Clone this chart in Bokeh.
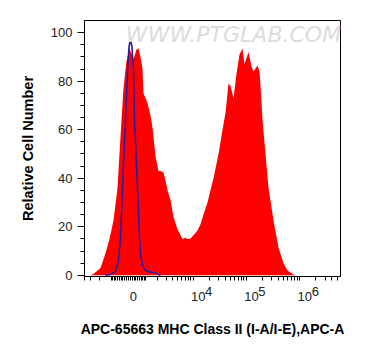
import numpy as np
from bokeh.plotting import figure
from bokeh.models import FixedTicker, Range1d, Label, LinearAxis
from bokeh.embed import file_html
from bokeh.resources import INLINE

# ---- data (x in display units of the biexponential axis, y = % of max) ----
red_x = [-0.713, -0.657, -0.525, -0.432, -0.356, -0.281, -0.206, -0.169, -0.131, -0.094,
         -0.038, 0.019, 0.094, 0.150, 0.188, 0.225, 0.263, 0.281, 0.319, 0.356,
         0.413, 0.450, 0.507, 0.563, 0.600, 0.657, 0.694, 0.732, 0.788, 0.844,
         0.919, 0.976, 1.013, 1.069, 1.107, 1.163, 1.220, 1.295, 1.351, 1.407,
         1.482, 1.538, 1.595, 1.632, 1.689, 1.764, 1.821, 1.876, 1.914, 1.970,
         2.026, 2.083, 2.139, 2.176, 2.251, 2.308, 2.345, 2.420, 2.458, 2.477,
         2.514, 2.570, 2.627, 2.720, 2.814, 2.908, 2.983, 3.039, 3.133]
red_y = [0, 0.5, 3, 9, 15, 22.6, 36, 50, 64, 77,
         88, 93.5, 89, 93, 93.5, 90, 85, 75, 73, 71,
         66, 61, 49, 43, 43, 42.4, 39, 35, 31, 24,
         19, 16.5, 15, 15.5, 15, 15.2, 16.5, 18.5, 21, 25,
         30, 35, 40, 44, 50, 60, 67, 79, 78, 73,
         83, 91, 93.5, 87, 92, 86, 84, 86.5, 84, 78,
         64, 50, 36, 22.6, 11.5, 5, 2, 1, 0]

blue_x = [-0.432, -0.338, -0.244, -0.188, -0.150, -0.113, -0.075, -0.056, -0.019, 0.009,
          0.038, 0.066, 0.094, 0.113, 0.141, 0.169, 0.197, 0.225, 0.263, 0.319,
          0.375, 0.450, 0.507, 0.563, 0.600]
blue_y = [0, 0.3, 1.5, 6, 15, 36, 55, 64, 84, 94,
          97.5, 94, 84, 64, 50, 36, 20, 9, 4, 2,
          1.5, 1.2, 1.0, 0.3, 0]

x_major_values = [0, 1e4, 1e5, 1e6]
x_major_base = ["0", "10", "10", "10"]
x_major_exp = ["", "4", "5", "6"]
y_ticks = [0, 20, 40, 60, 80, 100]

C = 1226.0
def pos(v):
    return float(np.round(np.arcsinh(v / C) / np.log(10), 4))

minor_vals = ([-v for v in range(1000, 5000, 1000)] +
              [-v for v in range(100, 1000, 100)] + list(range(100, 1000, 100)) +
              [m * 10 ** e for e in (3, 4, 5, 6) for m in range(1, 10)])
major_pos = [pos(v) for v in x_major_values]
minor_pos = sorted(set(pos(v) for v in minor_vals) - set(major_pos))

PX = 53.31  # pixels per display unit
base_pos = [round(mp + 5 / PX, 4) for mp in major_pos]
exp_pos = [round(mp + 15.5 / PX, 4) for mp, e in zip(major_pos, x_major_exp) if e]
exp_txt = [e for e in x_major_exp if e]

Y0 = -0.5
p = figure(width=360, height=350, x_range=Range1d(-0.825, 3.977), y_range=Range1d(Y0, 105),
           output_backend="svg", toolbar_location=None,
           min_border_left=84, min_border_right=20, min_border_top=20, min_border_bottom=74)
p.background_fill_color = "white"
p.border_fill_color = "white"
p.outline_line_color = "black"
p.outline_line_width = 1
p.grid.visible = False

p.varea(x=red_x, y1=0, y2=red_y, fill_color="#ff0000", fill_alpha=1.0)
p.line(blue_x, blue_y, line_color="#2a1aa0", line_width=1.6)

wm = Label(x=1.97, y=99.3, text="WWW.PTGLAB.COM", text_align="center", text_baseline="middle",
           text_font="DejaVu Sans", text_font_size="22px", text_font_style="italic",
           text_color="#dcdcdc")
p.add_layout(wm)

# axis A (next to the frame): all tick marks + raised exponents
xa = p.xaxis[0]
xa.ticker = FixedTicker(ticks=exp_pos, minor_ticks=sorted(major_pos + minor_pos))
xa.major_label_overrides = {ep: t for ep, t in zip(exp_pos, exp_txt)}
xa.major_label_text_font = "Liberation Sans"
xa.major_label_text_font_size = "13px"
xa.major_label_text_color = "#222222"
xa.major_label_standoff = 6
xa.major_tick_in = 0
xa.major_tick_out = 0
xa.major_tick_line_color = None
xa.minor_tick_in = 0
xa.minor_tick_out = 4
xa.axis_line_color = "black"

# axis B (below it): the base numbers and the title
xb = LinearAxis(ticker=FixedTicker(ticks=base_pos, minor_ticks=[]),
                major_label_overrides={bp: b for bp, b in zip(base_pos, x_major_base)},
                axis_line_color=None, major_tick_line_color=None, minor_tick_line_color=None,
                major_tick_in=0, major_tick_out=0, minor_tick_in=0, minor_tick_out=0,
                major_label_standoff=-7)
xb.major_label_text_font = "Liberation Sans"
xb.major_label_text_font_size = "13px"
xb.major_label_text_color = "#222222"
xb.axis_label = "APC-65663 MHC Class II (I-A/I-E),APC-A"
xb.axis_label_text_font = "Liberation Sans"
xb.axis_label_text_font_style = "bold"
xb.axis_label_text_font_size = "14px"
xb.axis_label_text_color = "black"
xb.axis_label_standoff = 17
p.add_layout(xb, "below")

ya = p.yaxis[0]
ya.ticker = FixedTicker(ticks=y_ticks, minor_ticks=list(range(0, 105, 5)))
ya.axis_label = "Relative Cell Number"
ya.axis_label_text_font = "Liberation Sans"
ya.axis_label_text_font_style = "bold"
ya.axis_label_text_font_size = "14.5px"
ya.axis_label_text_color = "black"
ya.axis_label_standoff = 12
ya.major_label_text_font = "Liberation Sans"
ya.major_label_text_font_size = "13px"
ya.major_label_text_color = "#222222"
ya.major_label_standoff = 5
ya.major_tick_in = 0
ya.major_tick_out = 7
ya.minor_tick_in = 0
ya.minor_tick_out = 4
ya.axis_line_color = "black"

open("out.html", "w").write(file_html(p, INLINE))
